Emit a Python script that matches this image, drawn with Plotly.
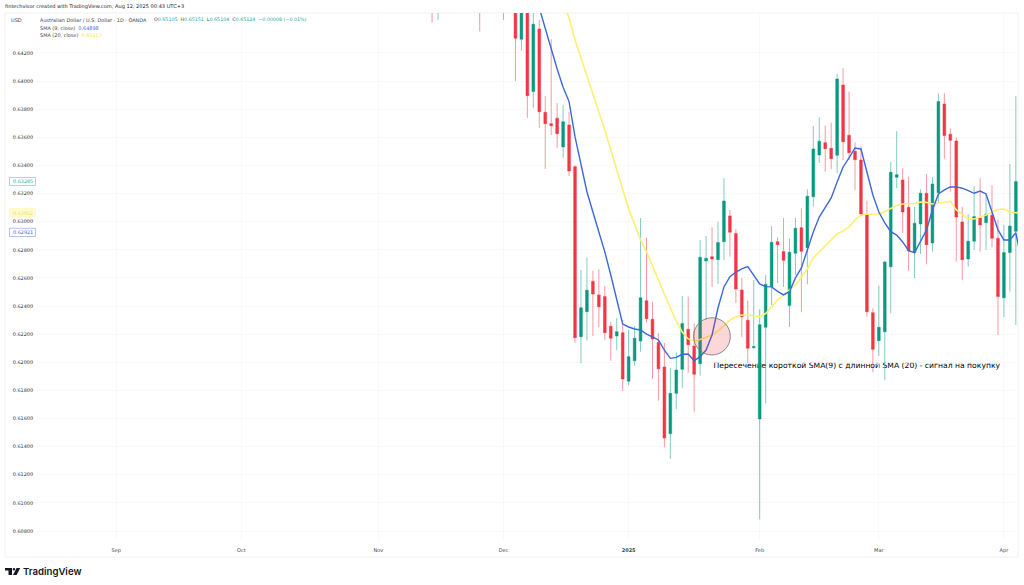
import plotly.graph_objects as go

# ---- data ----
bar_index = [-14, -13, -6, -2] + list(range(0, 85))
opens = [0.65200, 0.64900, 0.64800, 0.64900,
 0.64900,0.64297,0.64790,0.63925,0.64371,0.63778,0.63697,0.63736,0.63531,0.63688,
 0.63391,0.62182,0.62360,0.62576,0.62479,0.62467,0.62256,0.62187,0.62210,0.61865,
 0.62011,0.62151,0.62438,0.62306,0.62142,0.61966,0.61492,0.61779,0.61950,0.62235,
 0.62116,0.61990,0.62720,0.62751,0.62730,0.62858,0.63041,0.62915,0.62514,0.62299,
 0.62104,0.61597,0.62249,0.62538,0.62858,0.62787,0.62403,0.62775,0.62957,0.62815,
 0.63178,0.63474,0.63562,0.63522,0.63472,0.63972,0.63615,0.63501,0.63439,0.63048,
 0.62353,0.62154,0.62218,0.62680,0.63316,0.63297,0.63102,0.62780,0.62984,0.63202,
 0.62849,0.63206,0.63837,0.63622,0.63574,0.62998,0.62735,0.62861,0.63026,0.62993,
 0.63046,0.62882,0.62459,0.62780,0.62932]
highs = [0.65300, 0.65000, 0.64900, 0.65000,
 0.65000,0.64800,0.64850,0.64500,0.64435,0.63894,0.64297,0.63844,0.63830,0.63782,
 0.63403,0.62656,0.62747,0.62651,0.62661,0.62543,0.62289,0.62315,0.62301,0.62230,
 0.62258,0.63026,0.62884,0.62431,0.62208,0.62137,0.61960,0.62071,0.62472,0.62467,
 0.62277,0.62870,0.62898,0.62960,0.63000,0.63309,0.63083,0.62948,0.62600,0.62438,
 0.62585,0.62377,0.62621,0.62969,0.62889,0.63026,0.62879,0.63026,0.63095,0.63230,
 0.63681,0.63743,0.63683,0.63704,0.64051,0.64091,0.63925,0.63565,0.63538,0.63149,
 0.62384,0.62545,0.62723,0.63427,0.63645,0.63380,0.63320,0.63105,0.63230,0.63339,
 0.63316,0.63913,0.63913,0.63664,0.63600,0.63105,0.63053,0.63254,0.63309,0.63190,
 0.63261,0.63012,0.62977,0.63410,0.63894]
lows = [0.64416, 0.64435, 0.64352, 0.64435,
 0.64001,0.64216,0.63738,0.63809,0.63667,0.63375,0.63617,0.63526,0.63455,0.63325,
 0.62139,0.61993,0.62154,0.62187,0.62249,0.62159,0.62011,0.62087,0.61796,0.61838,
 0.61974,0.62075,0.62282,0.61881,0.61727,0.61395,0.61312,0.61666,0.61815,0.61926,
 0.61649,0.61905,0.62301,0.62536,0.62557,0.62728,0.62751,0.62422,0.62180,0.61995,
 0.62095,0.60883,0.61708,0.62407,0.62564,0.62536,0.62251,0.62621,0.62356,0.62555,
 0.63107,0.63418,0.63356,0.63373,0.63346,0.63439,0.63439,0.63226,0.63048,0.62324,
 0.61929,0.62045,0.61874,0.62348,0.63238,0.62920,0.62651,0.62597,0.62770,0.62697,
 0.62787,0.63133,0.63448,0.63213,0.62716,0.62585,0.62680,0.62799,0.62787,0.62799,
 0.62818,0.62194,0.62320,0.62502,0.62265]
closes = [0.65000, 0.65100, 0.64600, 0.64700,
 0.64305,0.64750,0.63896,0.64404,0.63782,0.63697,0.63683,0.63626,0.63711,0.63361,
 0.62175,0.62388,0.62512,0.62486,0.62395,0.62210,0.62171,0.62218,0.61881,0.62040,
 0.62171,0.62459,0.62310,0.62166,0.61954,0.61461,0.61779,0.61945,0.62275,0.62125,
 0.61915,0.62747,0.62740,0.62735,0.62851,0.63147,0.62925,0.62521,0.62324,0.62100,
 0.62111,0.62267,0.62555,0.62853,0.62836,0.62725,0.62782,0.62953,0.62789,0.63181,
 0.63517,0.63572,0.63519,0.63448,0.64015,0.63569,0.63491,0.63441,0.63055,0.62360,
 0.62092,0.62249,0.62713,0.63351,0.63334,0.63069,0.62792,0.62989,0.63202,0.62836,
 0.63268,0.63854,0.63612,0.63579,0.63033,0.62730,0.62861,0.63036,0.62977,0.63053,
 0.62882,0.62467,0.62780,0.62969,0.63285]

sma9_index = list(range(4, 86))
sma9 = [0.64520,0.64375,0.64221,0.64086,0.63956,0.63854,0.63603,0.63403,0.63213,0.63069,
 0.62927,0.62785,0.62621,0.62443,0.62272,0.62251,0.62237,0.62230,0.62201,0.62180,
 0.62159,0.62087,0.62028,0.62035,0.62057,0.62059,0.62011,0.62040,0.62087,0.62194,
 0.62386,0.62536,0.62609,0.62642,0.62664,0.62680,0.62621,0.62557,0.62538,0.62536,
 0.62504,0.62479,0.62502,0.62600,0.62671,0.62799,0.62927,0.63033,0.63097,0.63169,
 0.63282,0.63389,0.63453,0.63524,0.63517,0.63354,0.63190,0.63069,0.62991,0.62929,
 0.62905,0.62856,0.62794,0.62780,0.62856,0.62941,0.63083,0.63197,0.63226,0.63247,
 0.63247,0.63238,0.63221,0.63202,0.63218,0.63197,0.63069,0.62941,0.62870,0.62870,
 0.62921,0.62713]

sma20_index = list(range(8, 86))
sma20 = [0.64556,0.64449,0.64292,0.64164,0.64044,0.63915,0.63787,0.63652,0.63510,0.63375,
 0.63226,0.63090,0.62984,0.62870,0.62785,0.62685,0.62585,0.62479,0.62386,0.62294,
 0.62215,0.62166,0.62151,0.62162,0.62180,0.62194,0.62223,0.62258,0.62301,0.62322,
 0.62336,0.62336,0.62329,0.62324,0.62347,0.62393,0.62443,0.62479,0.62514,0.62550,
 0.62607,0.62664,0.62742,0.62785,0.62827,0.62870,0.62913,0.62934,0.62962,0.63012,
 0.63048,0.63053,0.63053,0.63055,0.63073,0.63097,0.63115,0.63126,0.63126,0.63129,
 0.63140,0.63137,0.63126,0.63133,0.63140,0.63145,0.63083,0.63048,0.63019,0.63019,
 0.63033,0.63048,0.63069,0.63087,0.63090,0.63069,0.63064,0.63062]

price_ticks = [0.608,0.610,0.612,0.614,0.616,0.618,0.620,0.622,0.624,0.626,0.628,
               0.630,0.632,0.634,0.636,0.638,0.640,0.642]
price_labels = ["%.5f" % p for p in price_ticks]
month_index = [-67, -46, -23, -2, 19, 41, 61, 82]
month_labels = ["Sep", "Oct", "Nov", "Dec", "<b>2025</b>", "Feb", "Mar", "Apr"]

# ---- page geometry ----
W, H = 1024, 585
L, R, T, B = 35, 1018.5, 13, 541
FONT = "DejaVu Sans"
UP, DOWN = "#089981", "#f23645"
BLUE, YELLOW = "#3d68d8", "#ffef6e"
GRID, PANE = "#f6f6f6", "#eeeeee"

def fx(px):
    return (px - L) / (R - L)

def fy(py):
    return (B - py) / (B - T)

def text(px, py, s, color="#444444", size=5.4, family=FONT, xanchor="left", weight=None):
    f = dict(family=family, size=size, color=color)
    if weight:
        f["weight"] = weight
    return dict(x=fx(px), y=fy(py), xref="paper", yref="paper", text=s, showarrow=False,
                xanchor=xanchor, yanchor="middle", font=f, borderpad=0, borderwidth=0)

def box(x0, y0, x1, y1, line, fill="white", width=0.7, layer="above"):
    return dict(type="rect", xref="paper", yref="paper", x0=fx(x0), x1=fx(x1), y0=fy(y0), y1=fy(y1),
                line=dict(color=line, width=width), fillcolor=fill, layer=layer)

def seg(x0, y0, x1, y1, color=PANE, width=0.8):
    return dict(type="line", xref="paper", yref="paper", x0=fx(x0), x1=fx(x1), y0=fy(y0), y1=fy(y1),
                line=dict(color=color, width=width), layer="below")

fig = go.Figure()
fig.add_trace(go.Candlestick(
    x=bar_index, open=opens, high=highs, low=lows, close=closes,
    whiskerwidth=0, showlegend=False, hoverinfo="skip",
    increasing=dict(line=dict(color="rgba(8,153,129,0.5)", width=1), fillcolor=UP),
    decreasing=dict(line=dict(color="rgba(242,54,69,0.5)", width=1), fillcolor=DOWN),
))
fig.add_trace(go.Scatter(x=sma20_index, y=sma20, mode="lines", showlegend=False,
                         line=dict(color=YELLOW, width=1.6), hoverinfo="skip"))
fig.add_trace(go.Scatter(x=sma9_index, y=sma9, mode="lines", showlegend=False,
                         line=dict(color=BLUE, width=1.4), hoverinfo="skip"))

shapes = [
    seg(5, 13, R, 13), seg(5, 13, 5, 557), seg(5, 557, R, 557), seg(R, 13, R, 557),
    # crossing marker
    dict(type="circle", xref="x", yref="y", x0=29.9, x1=36.07, y0=0.62052, y1=0.62317,
         line=dict(color="#6e6e6e", width=0.8), fillcolor="rgba(242,54,69,0.2)", layer="above"),
    # note (kept under the candles)
    dict(type="rect", xref="x", yref="y", x0=32.75, x1=84, y0=0.61930, y1=0.62030,
         line=dict(width=0), fillcolor="rgba(0,0,0,0)", layer="below",
         label=dict(text="Пересечение короткой SMA(9) с длинной SMA (20) - сигнал на покупку",
                    textposition="middle left", padding=0,
                    font=dict(family=FONT, size=7.65, color="#000000"))),
    # last-value boxes
    box(9.5, 177.5, 35.5, 185.5, "#7fccbf"),
    box(9.5, 208.7, 35.5, 216.7, "#fff6b0", fill="#fffbd0"),
    box(9.5, 228.3, 35.5, 236.5, "#90a8e4"),
    # logo
    dict(type="path", xref="paper", yref="paper", fillcolor="#131722", line=dict(width=0), layer="above",
         path=f"M {fx(5)} {fy(568)} L {fx(12)} {fy(568)} L {fx(12)} {fy(575)} L {fx(8.5)} {fy(575)} "
              f"L {fx(8.5)} {fy(570.6)} L {fx(5)} {fy(570.6)} Z"),
    dict(type="circle", xref="paper", yref="paper", fillcolor="#131722", line=dict(width=0), layer="above",
         x0=fx(12.7), x1=fx(15.2), y0=fy(570.6), y1=fy(568)),
    dict(type="path", xref="paper", yref="paper", fillcolor="#131722", line=dict(width=0), layer="above",
         path=f"M {fx(16.6)} {fy(568)} L {fx(20.2)} {fy(568)} L {fx(16.6)} {fy(575)} L {fx(13)} {fy(575)} Z"),
]

annotations = [
    text(5, 7, "fintechvisor created with TradingView.com, Aug 12, 2025 00:43 UTC+3", color="#1c1c1c", size=5.05),
    text(11, 20, "USD", size=5),
    text(40, 19.5, "Australian Dollar / U.S. Dollar · 1D · OANDA", size=4.95),
    text(154, 19.5, 'O<span style="color:#26a69a">0.65105</span>  H<span style="color:#26a69a">0.65151</span>  '
                    'L<span style="color:#26a69a">0.65104</span>  C<span style="color:#26a69a">0.65124</span>  '
                    '<span style="color:#26a69a">−0.00008 (−0.01%)</span>', size=4.78),
    text(40, 27.5, f'SMA (9, close)  <span style="color:{BLUE}">0.64898</span>', size=4.95),
    text(40, 35, 'SMA (20, close)  <span style="color:#f5e24a">0.65117</span>', size=4.95),
    text(22.5, 181.5, "0.63285", color="#26a69a", size=4.9, xanchor="center"),
    text(22.5, 212.7, "0.63062", color="#eedc5a", size=4.9, xanchor="center"),
    text(22.5, 232.4, "0.62921", color=BLUE, size=4.9, xanchor="center"),
    text(23, 571.5, "TradingView", color="#131722", size=9.6, family="Inter", weight=600),
]

fig.update_layout(
    width=W, height=H, autosize=False,
    margin=dict(l=L, r=W - R, t=T, b=H - B, pad=0),
    paper_bgcolor="white", plot_bgcolor="white",
    boxgap=0.34, hovermode=False, dragmode=False,
    font=dict(family=FONT, size=5, color="#444444"),
    shapes=shapes, annotations=annotations,
    xaxis=dict(range=[(L - 515.7) / 5.96, (R - 515.7) / 5.96], rangeslider=dict(visible=False),
               tickmode="array", tickvals=month_index, ticktext=month_labels,
               showgrid=True, gridcolor=GRID, gridwidth=0.7, zeroline=False, showline=False, ticks="",
               tickfont=dict(size=5, color="#444444"), ticklabelstandoff=5),
    yaxis=dict(range=[0.60729, 0.64484], tickmode="array", tickvals=price_ticks, ticktext=price_labels,
               showgrid=True, gridcolor=GRID, gridwidth=0.7, zeroline=False, showline=False, ticks="",
               tickfont=dict(size=4.9, color="#333333"), ticklabelstandoff=1),
)

fig.write_html("out.html", config=dict(displayModeBar=False, staticPlot=True),
               post_script="document.body.style.margin='0';document.body.style.overflow='hidden';")
